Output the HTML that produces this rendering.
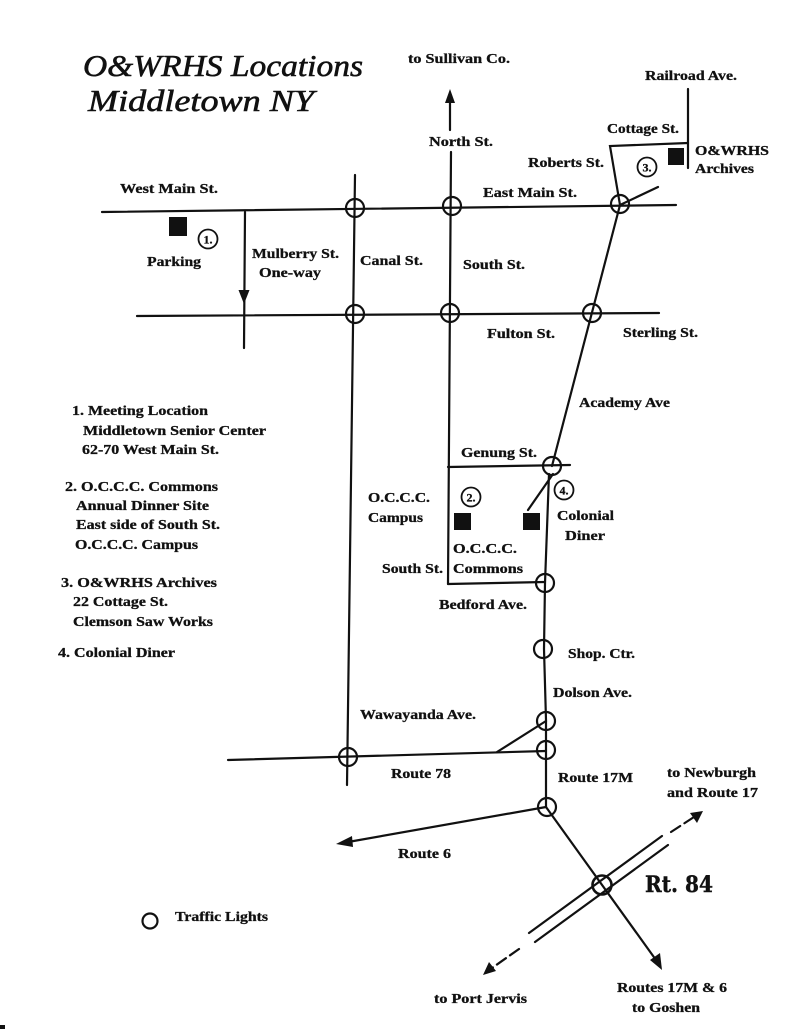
<!DOCTYPE html>
<html><head><meta charset="utf-8"><style>
html,body{margin:0;padding:0;background:#fff;}
svg{display:block;}
text{font-family:"Liberation Serif",serif;font-weight:bold;font-size:14px;fill:#111;stroke:#111;stroke-width:0.3;}
.t{font-family:"Liberation Serif",serif;font-style:italic;font-weight:normal;font-size:31px;stroke-width:0.6;}
.rt{font-family:"DejaVu Serif","Liberation Serif",serif;font-weight:bold;font-size:22px;stroke-width:0.4;}
.n{font-size:12px;}
</style></head><body>
<svg width="800" height="1034" viewBox="0 0 800 1034" xmlns="http://www.w3.org/2000/svg">
<rect width="800" height="1034" fill="#fff"/>
<!-- Title -->
<text class="t" x="83" y="76" textLength="280" lengthAdjust="spacingAndGlyphs">O&amp;WRHS Locations</text>
<text class="t" x="88" y="111" textLength="226" lengthAdjust="spacingAndGlyphs">Middletown NY</text>

<g stroke="#111" stroke-width="2.2" fill="none" stroke-linecap="round">
  <line x1="102" y1="212" x2="676" y2="205"/>
  <line x1="137" y1="316" x2="659" y2="313"/>
  <line x1="245" y1="212" x2="244" y2="348"/>
  <line x1="355" y1="175" x2="347" y2="785"/>
  <line x1="451" y1="152" x2="448" y2="584"/>
  <line x1="450" y1="130" x2="450" y2="100"/>
  <polyline points="620,205 610,146 688,143"/>
  <line x1="688" y1="89" x2="688" y2="168"/>
  <line x1="620" y1="205" x2="658" y2="187"/>
  <line x1="620" y1="205" x2="552" y2="466"/>
  <line x1="448" y1="467" x2="570" y2="465"/>
  <line x1="448" y1="584" x2="545" y2="582"/>
  <line x1="553" y1="474" x2="528" y2="510"/>
  <polyline points="549,474 545,583 544,649 546,720 546,807"/>
  <line x1="228" y1="760" x2="546" y2="751"/>
  <line x1="497" y1="752" x2="546" y2="721"/>
  <line x1="546" y1="807" x2="348" y2="842"/>
  <line x1="546" y1="807" x2="656" y2="960"/>
  <line x1="529" y1="933" x2="662" y2="836"/>
  <line x1="535" y1="942" x2="668" y2="845"/>
  <line x1="671" y1="832" x2="694" y2="817" stroke-dasharray="11,5"/>
  <line x1="519" y1="949" x2="492" y2="968" stroke-dasharray="11,5"/>
  <circle cx="602" cy="885" r="9.5" stroke-width="2.6"/>
</g>

<g fill="#111">
  <polygon points="450,89 445,103 455,103"/>
  <polygon points="244,304 238.5,290 249.5,290"/>
  <polygon points="336,844 352,836 353,847"/>
  <polygon points="662,970 650,960 660,953"/>
  <polygon points="703,811 690,813 697,823"/>
  <polygon points="483,975 489,962 496,971"/>
</g>

<g stroke="#111" stroke-width="2.2" fill="none">
  <circle cx="355" cy="208" r="9"/>
  <circle cx="452" cy="206" r="9"/>
  <circle cx="620" cy="204" r="9"/>
  <circle cx="355" cy="314" r="9"/>
  <circle cx="450" cy="313" r="9"/>
  <circle cx="592" cy="313" r="9"/>
  <circle cx="552" cy="466" r="9"/>
  <circle cx="545" cy="583" r="9"/>
  <circle cx="543" cy="649" r="9"/>
  <circle cx="546" cy="721" r="9"/>
  <circle cx="546" cy="750" r="9"/>
  <circle cx="547" cy="807" r="9"/>
  <circle cx="348" cy="757" r="9"/>
  <circle cx="150" cy="921" r="7.5"/>
  <circle cx="208" cy="239" r="9.5" stroke-width="1.8"/>
  <circle cx="471" cy="497" r="9.5" stroke-width="1.8"/>
  <circle cx="647" cy="167" r="9.5" stroke-width="1.8"/>
  <circle cx="564" cy="490" r="9.5" stroke-width="1.8"/>
</g>
<g>
  <text class="n" x="208" y="243.5" text-anchor="middle">1.</text>
  <text class="n" x="471" y="501.5" text-anchor="middle">2.</text>
  <text class="n" x="647" y="171.5" text-anchor="middle">3.</text>
  <text class="n" x="564" y="494.5" text-anchor="middle">4.</text>
</g>

<g fill="#111">
  <rect x="169" y="217" width="18" height="19"/>
  <rect x="668" y="148" width="16" height="17"/>
  <rect x="454" y="513" width="17" height="17"/>
  <rect x="523" y="513" width="17" height="17"/>
  <rect x="0" y="1025" width="5" height="4"/>
</g>

<g>
<text x="408" y="63" textLength="102" lengthAdjust="spacingAndGlyphs">to Sullivan Co.</text>
<text x="645" y="80" textLength="92" lengthAdjust="spacingAndGlyphs">Railroad Ave.</text>
<text x="607" y="133" textLength="72" lengthAdjust="spacingAndGlyphs">Cottage St.</text>
<text x="695" y="155" textLength="74" lengthAdjust="spacingAndGlyphs">O&amp;WRHS</text>
<text x="695" y="173" textLength="59" lengthAdjust="spacingAndGlyphs">Archives</text>
<text x="528" y="167" textLength="76" lengthAdjust="spacingAndGlyphs">Roberts St.</text>
<text x="429" y="146" textLength="64" lengthAdjust="spacingAndGlyphs">North St.</text>
<text x="483" y="197" textLength="94" lengthAdjust="spacingAndGlyphs">East Main St.</text>
<text x="463" y="269" textLength="62" lengthAdjust="spacingAndGlyphs">South St.</text>
<text x="487" y="338" textLength="68" lengthAdjust="spacingAndGlyphs">Fulton St.</text>
<text x="623" y="337" textLength="75" lengthAdjust="spacingAndGlyphs">Sterling St.</text>
<text x="120" y="193" textLength="98" lengthAdjust="spacingAndGlyphs">West Main St.</text>
<text x="147" y="266" textLength="54" lengthAdjust="spacingAndGlyphs">Parking</text>
<text x="252" y="258" textLength="87" lengthAdjust="spacingAndGlyphs">Mulberry St.</text>
<text x="259" y="277" textLength="62" lengthAdjust="spacingAndGlyphs">One-way</text>
<text x="360" y="265" textLength="63" lengthAdjust="spacingAndGlyphs">Canal St.</text>
<text x="579" y="407" textLength="91" lengthAdjust="spacingAndGlyphs">Academy Ave</text>
<text x="461" y="457" textLength="76" lengthAdjust="spacingAndGlyphs">Genung St.</text>
<text x="368" y="502" textLength="62" lengthAdjust="spacingAndGlyphs">O.C.C.C.</text>
<text x="368" y="522" textLength="55" lengthAdjust="spacingAndGlyphs">Campus</text>
<text x="557" y="520" textLength="57" lengthAdjust="spacingAndGlyphs">Colonial</text>
<text x="565" y="540" textLength="40" lengthAdjust="spacingAndGlyphs">Diner</text>
<text x="453" y="553" textLength="64" lengthAdjust="spacingAndGlyphs">O.C.C.C.</text>
<text x="453" y="573" textLength="70" lengthAdjust="spacingAndGlyphs">Commons</text>
<text x="382" y="573" textLength="61" lengthAdjust="spacingAndGlyphs">South St.</text>
<text x="439" y="609" textLength="88" lengthAdjust="spacingAndGlyphs">Bedford Ave.</text>
<text x="568" y="658" textLength="67" lengthAdjust="spacingAndGlyphs">Shop. Ctr.</text>
<text x="553" y="697" textLength="79" lengthAdjust="spacingAndGlyphs">Dolson Ave.</text>
<text x="360" y="719" textLength="116" lengthAdjust="spacingAndGlyphs">Wawayanda Ave.</text>
<text x="391" y="778" textLength="60" lengthAdjust="spacingAndGlyphs">Route 78</text>
<text x="558" y="782" textLength="75" lengthAdjust="spacingAndGlyphs">Route 17M</text>
<text x="667" y="777" textLength="89" lengthAdjust="spacingAndGlyphs">to Newburgh</text>
<text x="667" y="797" textLength="91" lengthAdjust="spacingAndGlyphs">and Route 17</text>
<text x="398" y="858" textLength="53" lengthAdjust="spacingAndGlyphs">Route 6</text>
<text class="rt" x="645" y="892" textLength="68" lengthAdjust="spacingAndGlyphs">Rt. 84</text>
<text x="434" y="1003" textLength="93" lengthAdjust="spacingAndGlyphs">to Port Jervis</text>
<text x="617" y="992" textLength="110" lengthAdjust="spacingAndGlyphs">Routes 17M &amp; 6</text>
<text x="632" y="1012" textLength="68" lengthAdjust="spacingAndGlyphs">to Goshen</text>

<text x="72" y="415" textLength="136" lengthAdjust="spacingAndGlyphs">1. Meeting Location</text>
<text x="83" y="435" textLength="183" lengthAdjust="spacingAndGlyphs">Middletown Senior Center</text>
<text x="82" y="454" textLength="137" lengthAdjust="spacingAndGlyphs">62-70 West Main St.</text>
<text x="65" y="491" textLength="153" lengthAdjust="spacingAndGlyphs">2. O.C.C.C. Commons</text>
<text x="76" y="510" textLength="133" lengthAdjust="spacingAndGlyphs">Annual Dinner Site</text>
<text x="76" y="529" textLength="144" lengthAdjust="spacingAndGlyphs">East side of South St.</text>
<text x="75" y="549" textLength="123" lengthAdjust="spacingAndGlyphs">O.C.C.C. Campus</text>
<text x="61" y="587" textLength="156" lengthAdjust="spacingAndGlyphs">3. O&amp;WRHS Archives</text>
<text x="73" y="606" textLength="95" lengthAdjust="spacingAndGlyphs">22 Cottage St.</text>
<text x="73" y="626" textLength="140" lengthAdjust="spacingAndGlyphs">Clemson Saw Works</text>
<text x="58" y="657" textLength="117" lengthAdjust="spacingAndGlyphs">4. Colonial Diner</text>
<text x="175" y="921" textLength="93" lengthAdjust="spacingAndGlyphs">Traffic Lights</text>
</g>
</svg>
</body></html>
